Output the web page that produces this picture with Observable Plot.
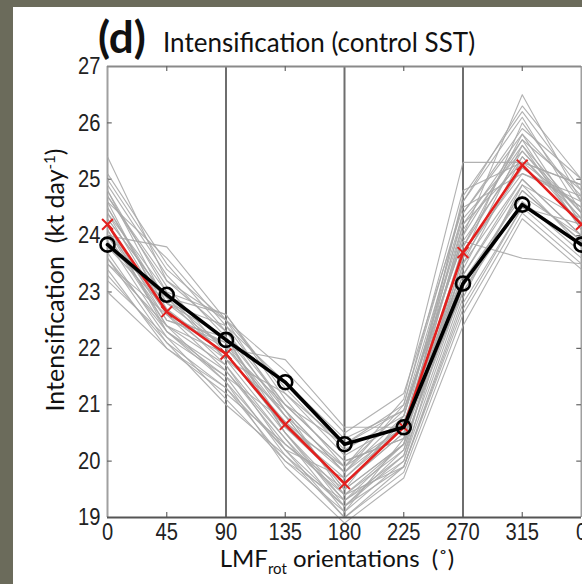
<!DOCTYPE html>
<html>
<head>
<meta charset="utf-8">
<script src="https://cdn.jsdelivr.net/npm/d3@7"></script>
<script src="https://cdn.jsdelivr.net/npm/@observablehq/plot@0.6"></script>
<style>
  html, body { margin: 0; padding: 0; width: 582px; height: 584px; overflow: hidden; background: #6b6b5b; }
  #paper { position: absolute; left: 13px; top: 7px; width: 700px; height: 700px; background: #fff; }
  #chart { position: absolute; left: 0; top: 0; width: 620px; }
  #chart svg { max-width: none !important; }
  #labels { position: absolute; left: 0; top: 0; overflow: visible; }
  .ttl { font-family: Lato, "Open Sans", sans-serif; fill: #111; white-space: pre; }
</style>
</head>
<body>
<div id="paper"></div>
<div id="chart"></div>
<svg id="labels" width="582" height="584">
  <text class="ttl" x="98" y="53" font-size="44" font-weight="bold">(d)</text>
  <text class="ttl" x="163" y="52" font-size="26">Intensification (control SST)</text>
  <text class="ttl" transform="translate(64,280) rotate(-90)" text-anchor="middle" font-size="25">Intensification&#160; (kt day<tspan dy="-9" font-size="15">-1</tspan><tspan dy="9">)</tspan></text>
  <text class="ttl" x="337" y="567" text-anchor="middle" font-size="24">LMF<tspan dy="7" font-size="15">rot</tspan><tspan dy="-7"> orientations&#160; (˚)</tspan></text>
</svg>
<script>
// LMF rotation angles (degrees) and their tick labels
const angles = [0, 45, 90, 135, 180, 225, 270, 315, 360];
const angleLabels = ["0", "45", "90", "135", "180", "225", "270", "315", "0"];
const yTicks = [19, 20, 21, 22, 23, 24, 25, 26, 27];

// control run (black, circles)
const control = [23.84, 22.95, 22.15, 21.4, 20.3, 20.6, 23.15, 24.55, 23.84];
// ensemble mean (red, crosses)
const ensembleMean = [24.2, 22.65, 21.9, 20.65, 19.6, 20.6, 23.7, 25.25, 24.2];

// individual ensemble members (gray)
const members = [
  [25.4, 23.2, 22.3, 21.0, 20.0, 20.4, 24.4, 25.9, 25.0],
  [25.0, 23.4, 22.5, 21.3, 20.2, 20.8, 24.0, 26.5, 24.6],
  [24.8, 23.0, 22.6, 21.1, 19.9, 20.6, 24.6, 26.1, 24.4],
  [24.6, 23.6, 22.4, 21.0, 20.3, 20.9, 23.9, 25.4, 24.3],
  [24.5, 22.8, 22.0, 20.8, 19.5, 20.3, 24.2, 25.7, 24.8],
  [24.4, 22.6, 22.1, 20.5, 19.4, 20.2, 23.5, 25.6, 24.1],
  [24.3, 22.9, 21.8, 20.9, 19.8, 21.0, 24.8, 25.3, 24.9],
  [24.2, 22.5, 22.2, 20.6, 19.7, 20.7, 23.3, 25.0, 24.0],
  [24.1, 22.4, 21.7, 20.2, 19.2, 19.9, 22.9, 24.9, 23.8],
  [24.0, 23.8, 22.5, 21.6, 20.5, 21.2, 24.5, 25.1, 24.7],
  [23.9, 22.3, 21.6, 20.4, 19.3, 20.1, 23.1, 24.6, 23.7],
  [23.8, 22.7, 21.9, 20.7, 19.6, 20.5, 23.8, 25.8, 24.2],
  [23.7, 22.2, 21.5, 20.1, 19.0, 19.8, 22.6, 24.4, 23.5],
  [23.6, 22.1, 21.3, 20.0, 19.1, 20.4, 23.6, 25.2, 24.5],
  [23.5, 22.4, 21.4, 19.9, 18.9, 19.7, 22.4, 24.3, 23.4],
  [23.4, 22.0, 21.2, 20.3, 19.5, 20.8, 24.3, 25.5, 24.3],
  [23.2, 22.2, 21.1, 20.0, 19.3, 20.0, 23.0, 24.8, 23.9],
  [23.0, 22.0, 21.3, 20.2, 19.0, 19.9, 22.8, 24.5, 23.6],
  [24.9, 23.3, 22.2, 20.9, 19.8, 20.6, 24.1, 25.6, 24.4],
  [24.7, 23.1, 21.9, 20.6, 19.6, 20.5, 23.7, 25.1, 24.6],
  [24.3, 22.9, 22.6, 21.2, 20.1, 20.7, 23.4, 25.4, 24.2],
  [24.6, 22.6, 21.6, 20.3, 19.4, 20.3, 23.2, 24.7, 24.0],
  [24.0, 22.5, 22.1, 20.8, 19.9, 21.1, 25.3, 25.3, 24.9],
  [23.9, 22.8, 22.4, 21.4, 20.4, 20.9, 23.9, 23.6, 23.5],
  [24.4, 23.0, 21.8, 20.5, 19.2, 20.2, 23.6, 26.0, 24.6],
  [24.2, 22.3, 21.4, 20.2, 19.7, 20.6, 24.0, 25.7, 24.1],
  [23.8, 22.9, 22.0, 21.0, 20.0, 20.4, 23.3, 24.9, 24.3],
  [25.1, 23.5, 22.3, 20.8, 19.5, 20.3, 24.7, 26.2, 24.8],
  [24.5, 22.7, 21.7, 20.4, 19.1, 20.0, 23.5, 25.0, 24.0],
  [23.6, 22.3, 21.5, 20.7, 19.8, 20.8, 24.2, 25.3, 24.5],
  [24.1, 22.6, 22.0, 21.8, 20.6, 20.6, 23.0, 24.6, 23.8],
  [24.7, 23.2, 22.5, 20.9, 19.4, 19.9, 22.7, 24.5, 24.2],
  [23.3, 22.1, 21.0, 20.1, 19.2, 20.1, 23.8, 25.5, 24.4],
  [24.0, 22.4, 21.9, 20.6, 19.9, 20.9, 24.4, 25.8, 24.7],
  [24.8, 22.8, 22.2, 20.5, 19.3, 20.3, 23.1, 24.8, 23.9],
  [23.5, 22.6, 21.8, 21.2, 20.3, 21.0, 24.6, 26.3, 25.0]
];

const memberRows = members.flatMap((vals, m) => vals.map((v, i) => ({member: m, angle: angles[i], value: v})));
const controlRows = control.map((v, i) => ({angle: angles[i], value: v}));
const meanRows = ensembleMean.map((v, i) => ({angle: angles[i], value: v}));
const innerTicks = angles.filter(a => a % 90 !== 0);

const chart = Plot.plot({
  width: 620,
  height: 584,
  marginLeft: 107,
  marginRight: 39,
  marginTop: 66,
  marginBottom: 67,
  style: {background: "transparent", fontFamily: "'Liberation Sans', Arial, sans-serif", color: "#222", overflow: "visible", maxWidth: "none"},
  x: {domain: [0, 360]},
  y: {domain: [19, 27]},
  marks: [
    // quadrant separators
    Plot.ruleX([90, 180, 270], {stroke: "#6e6e6e", strokeWidth: 2}),
    // frame
    Plot.ruleX([0], {stroke: "#a0a0a0", strokeWidth: 2}),
    Plot.ruleX([360], {stroke: "#a0a0a0", strokeWidth: 2}),
    Plot.ruleY([27], {stroke: "#8a8a8a", strokeWidth: 2}),
    // inward tick marks
    Plot.ruleX(innerTicks, {x: d => d, y1: 19, y2: 19.09, stroke: "#666", strokeWidth: 1.2}),
    Plot.ruleX(innerTicks, {x: d => d, y1: 26.91, y2: 27, stroke: "#666", strokeWidth: 1.2}),
    Plot.ruleY(yTicks.slice(1, -1), {y: d => d, x1: 0, x2: 3.6, stroke: "#666", strokeWidth: 1.2}),
    Plot.ruleY(yTicks.slice(1, -1), {y: d => d, x1: 356.4, x2: 360, stroke: "#666", strokeWidth: 1.2}),
    // ensemble members
    Plot.line(memberRows, {x: "angle", y: "value", z: "member", stroke: "#a8a8a8", strokeWidth: 1.1, strokeOpacity: 0.9}),
    // ensemble mean
    Plot.line(meanRows, {x: "angle", y: "value", stroke: "#e3201e", strokeWidth: 2.6}),
    Plot.dot(meanRows, {x: "angle", y: "value", symbol: "times", r: 5, stroke: "#e3201e", strokeWidth: 2}),
    // control
    Plot.line(controlRows, {x: "angle", y: "value", stroke: "#000", strokeWidth: 3.6}),
    Plot.dot(controlRows, {x: "angle", y: "value", r: 7, fill: "none", stroke: "#000", strokeWidth: 2.6}),
    Plot.ruleY([19], {stroke: "#555", strokeWidth: 2}),
    // tick labels
    Plot.axisX({ticks: angles, tickSize: 0, tickPadding: 5, tickFormat: (d, i) => angleLabels[i], fontSize: 24, label: null}),
    Plot.axisY({ticks: yTicks, tickSize: 0, tickPadding: 7, fontSize: 24, label: null})
  ]
});

// narrow the tick-label digits
d3.select(chart)
  .selectAll('g[aria-label="x-axis tick label"] text, g[aria-label="y-axis tick label"] text')
  .each(function() {
    this.setAttribute("textLength", this.textContent.length * 11.2);
    this.setAttribute("lengthAdjust", "spacingAndGlyphs");
  });

document.getElementById("chart").appendChild(chart);
</script>
</body>
</html>
